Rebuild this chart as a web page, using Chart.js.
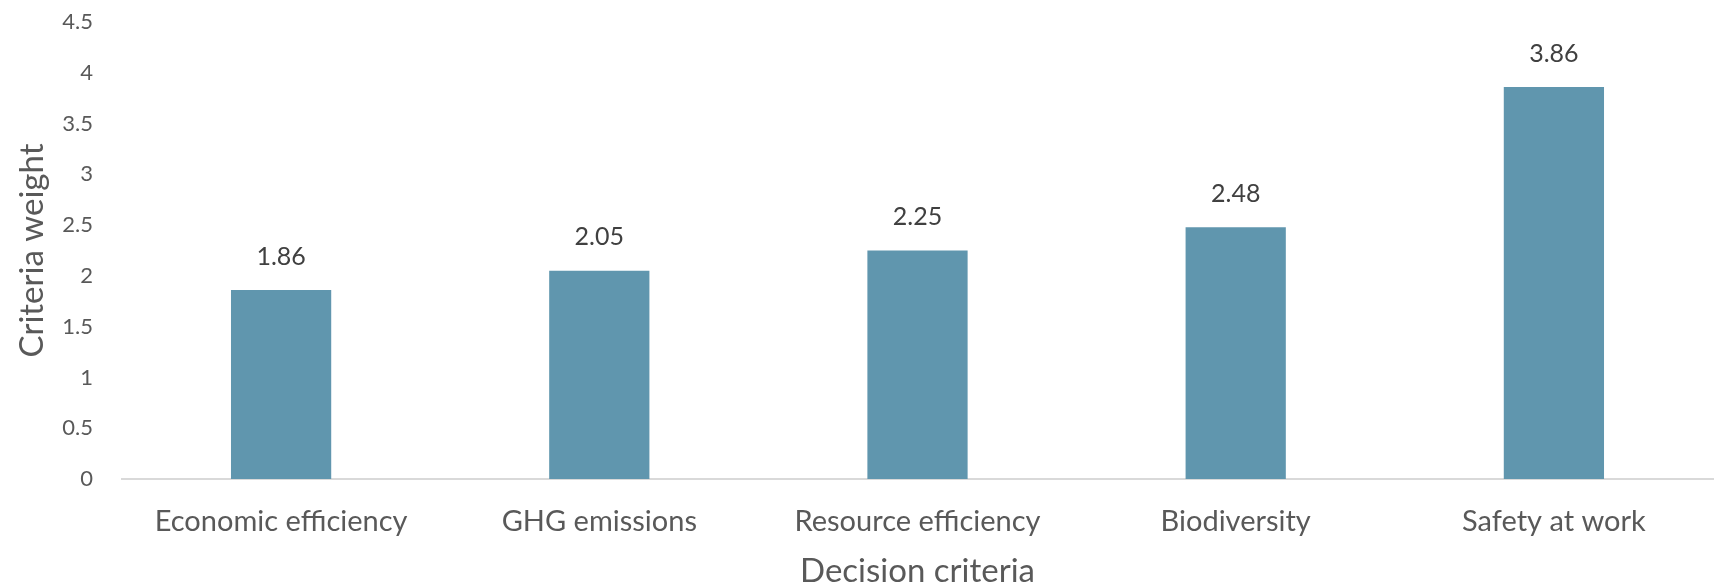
<!DOCTYPE html>
<html>
<head>
<meta charset="utf-8">
<script src="https://cdn.jsdelivr.net/npm/chart.js@4/dist/chart.umd.min.js"></script>
<style>
  html, body { margin:0; padding:0; background:#fff; }
  #wrap { width:1716px; height:585px; }
</style>
</head>
<body>
<div id="wrap"><canvas id="chart" width="1716" height="585"></canvas></div>
<script>
const categories = ['Economic efficiency', 'GHG emissions', 'Resource efficiency', 'Biodiversity', 'Safety at work'];
const weights = [1.86, 2.05, 2.25, 2.48, 3.86];
const yTicks = [0, 0.5, 1, 1.5, 2, 2.5, 3, 3.5, 4, 4.5];

const FONT = 'Lato, "Open Sans", sans-serif';
const TEXT = '#595959';

// value labels above the bars
const barLabels = {
  id:'barLabels',
  afterDatasetsDraw(chart){
    const { ctx } = chart;
    const meta = chart.getDatasetMeta(0);
    ctx.save();
    ctx.font = '25px ' + FONT;
    ctx.fillStyle = '#404040';
    ctx.textAlign = 'center';
    ctx.textBaseline = 'bottom';
    meta.data.forEach((bar, i) => {
      ctx.fillText(weights[i].toFixed(2), bar.x, bar.y - 21);
    });
    ctx.restore();
  }
};

new Chart(document.getElementById('chart'), {
  type:'bar',
  data:{ labels:categories, datasets:[{ data:weights, backgroundColor:'#6096ae', barPercentage:0.63, categoryPercentage:0.5 }] },
  options:{
    responsive:false,
    animation:false,
    layout:{ padding:{ left:13, right:3, top:22, bottom:0 } },
    plugins:{ legend:{ display:false }, tooltip:{ enabled:false } },
    scales:{
      x:{
        grid:{ display:false, drawTicks:false },
        border:{ display:true, color:'#d9d9d9', width:2 },
        ticks:{ color:TEXT, font:{ family:FONT, size:29 }, padding:25, maxRotation:0 },
        title:{ display:true, text:'Decision criteria', color:TEXT, font:{ family:FONT, size:33, lineHeight:0.85 }, padding:0 },
        afterFit(scale){ scale.height = 106; }
      },
      y:{
        min:0, max:4.5,
        afterBuildTicks(scale){ scale.ticks = yTicks.map(v => ({ value:v })); },
        grid:{ display:false, drawTicks:false },
        border:{ display:false },
        ticks:{ color:TEXT, font:{ family:FONT, size:22 }, padding:29, callback:v => String(v) },
        title:{ display:true, text:'Criteria weight', color:TEXT, font:{ family:FONT, size:33 }, padding:0 },
        afterFit(scale){ scale.width = 109; scale.paddingTop = 0; scale.paddingBottom = 0; }
      }
    }
  },
  plugins:[barLabels]
});
</script>
</body>
</html>
